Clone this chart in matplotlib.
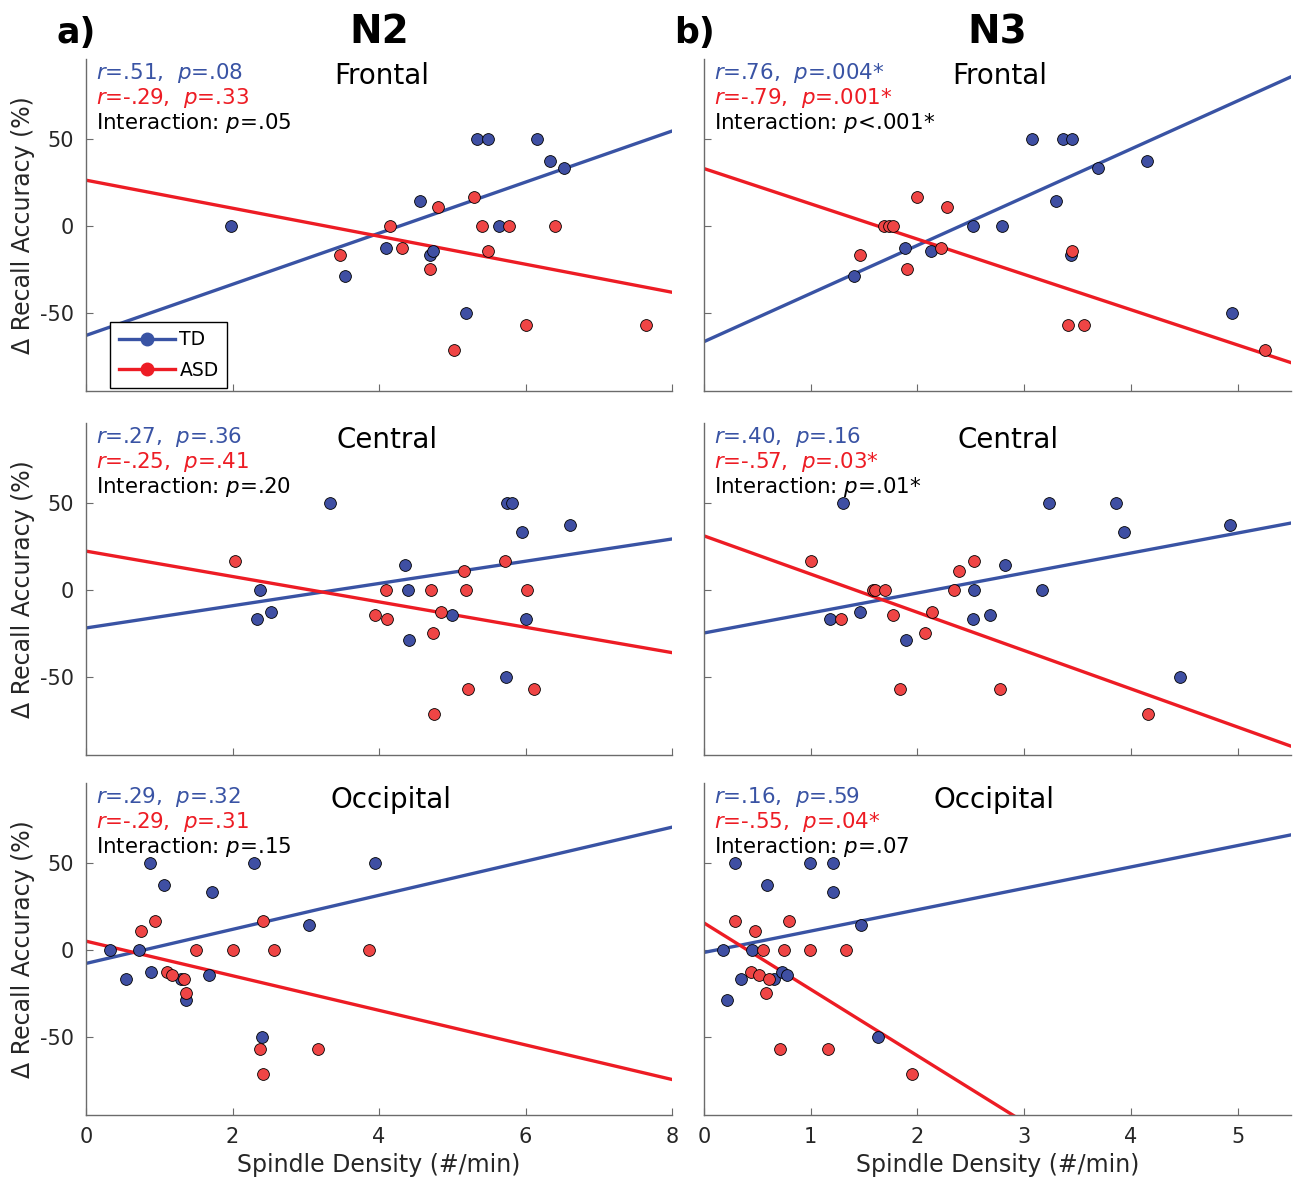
import matplotlib.pyplot as plt
import numpy as np
from matplotlib.lines import Line2D

plt.rcParams['axes.unicode_minus'] = False

blue = '#3953A4'
red = '#ED1C24'
blue_face = '#3F4FA3'
red_face = '#EF4545'

# ---- N2 ----
n2_fr_td_x = [1.98, 3.53, 4.09, 4.56, 4.69, 4.74, 5.19, 5.34, 5.49, 5.64, 6.15, 6.34, 6.53]
n2_fr_td_y = [0, -28.6, -12.5, 14.3, -16.7, -14.3, -50, 50, 50, 0, 50, 37.5, 33.3]
n2_fr_asd_x = [3.47, 4.15, 4.31, 4.69, 4.80, 5.02, 5.30, 5.41, 5.49, 5.77, 6.00, 6.40, 7.65]
n2_fr_asd_y = [-16.7, 0, -12.5, -25, 10.7, -71.4, 16.7, 0, -14.3, 0, -57.1, 0, -57.1]

n2_ce_td_x = [2.34, 2.37, 2.52, 3.33, 4.36, 4.39, 4.41, 4.99, 5.73, 5.75, 5.81, 5.95, 6.01, 6.60]
n2_ce_td_y = [-16.7, 0, -12.5, 50, 14.3, 0, -28.6, -14.3, -50, 50, 50, 33.3, -16.7, 37.5]
n2_ce_asd_x = [2.04, 3.94, 4.09, 4.11, 4.71, 4.73, 4.75, 4.84, 5.16, 5.19, 5.22, 5.72, 6.02, 6.11]
n2_ce_asd_y = [16.7, -14.3, 0, -16.7, 0, -25, -71.4, -12.5, 10.7, 0, -57.1, 16.7, 0, -57.1]

n2_oc_td_x = [0.33, 0.54, 0.72, 0.87, 0.88, 1.06, 1.29, 1.37, 1.68, 1.72, 2.29, 2.40, 3.05, 3.95]
n2_oc_td_y = [0, -16.7, 0, 50, -12.5, 37.5, -16.7, -28.6, -14.3, 33.3, 50, -50, 14.3, 50]
n2_oc_asd_x = [0.75, 0.94, 1.11, 1.18, 1.34, 1.36, 1.50, 2.00, 2.37, 2.42, 2.42, 2.57, 3.17, 3.86]
n2_oc_asd_y = [10.7, 16.7, -12.5, -14.3, -16.7, -25, 0, 0, -57.1, 16.7, -71.4, 0, -57.1, 0]

# ---- N3 ----
n3_fr_td_x = [1.41, 1.88, 2.13, 2.52, 2.79, 3.07, 3.30, 3.36, 3.45, 3.44, 3.69, 4.15, 4.95]
n3_fr_td_y = [-28.6, -12.5, -14.3, 0, 0, 50, 14.3, 50, 50, -16.7, 33.3, 37.5, -50]
n3_fr_asd_x = [1.46, 1.69, 1.73, 1.77, 1.90, 2.00, 2.22, 2.28, 3.41, 3.45, 3.56, 5.26]
n3_fr_asd_y = [-16.7, 0, 0, 0, -25, 16.7, -12.5, 10.7, -57.1, -14.3, -57.1, -71.4]

n3_ce_td_x = [1.18, 1.30, 1.46, 1.89, 2.52, 2.53, 2.68, 2.82, 3.17, 3.23, 3.86, 3.94, 4.46, 4.93]
n3_ce_td_y = [-16.7, 50, -12.5, -28.6, -16.7, 0, -14.3, 14.3, 0, 50, 50, 33.3, -50, 37.5]
n3_ce_asd_x = [1.00, 1.28, 1.58, 1.60, 1.70, 1.77, 1.84, 2.07, 2.14, 2.34, 2.39, 2.53, 2.77, 4.16]
n3_ce_asd_y = [16.7, -16.7, 0, 0, 0, -14.3, -57.1, -25, -12.5, 0, 10.7, 16.7, -57.1, -71.4]

n3_oc_td_x = [0.18, 0.22, 0.29, 0.35, 0.45, 0.59, 0.66, 0.73, 0.78, 0.99, 1.21, 1.21, 1.47, 1.63]
n3_oc_td_y = [0, -28.6, 50, -16.7, 0, 37.5, -16.7, -12.5, -14.3, 50, 50, 33.3, 14.3, -50]
n3_oc_asd_x = [0.29, 0.44, 0.48, 0.52, 0.55, 0.58, 0.61, 0.71, 0.75, 0.80, 0.99, 1.16, 1.33, 1.95]
n3_oc_asd_y = [16.7, -12.5, 10.7, -14.3, 0, -25, -16.7, -57.1, 0, 16.7, 0, -57.1, 0, -71.4]

# fitted lines as drawn in the figure: (intercept, slope), panel order
# N2 Frontal, N3 Frontal, N2 Central, N3 Central, N2 Occipital, N3 Occipital
td_fit = [(-63.0, 14.7), (-66.6, 27.7), (-21.9, 6.4), (-24.8, 11.5), (-7.8, 9.8), (-1.5, 12.3)]
asd_fit = [(26.3, -8.06), (33.0, -20.3), (22.3, -7.3), (31.1, -22.0), (5.0, -9.95), (15.5, -38.2)]

regions = ['Frontal', 'Central', 'Occipital']
stages = ['N2', 'N3']
panel_tags = ['a)', 'b)']

td_stats = [['.51', '.08'], ['.76', '.004*'],
            ['.27', '.36'], ['.40', '.16'],
            ['.29', '.32'], ['.16', '.59']]
asd_stats = [['-.29', '.33'], ['-.79', '.001*'],
             ['-.25', '.41'], ['-.57', '.03*'],
             ['-.29', '.31'], ['-.55', '.04*']]
inter_stats = ['=.05', '<.001*', '=.20', '=.01*', '=.15', '=.07']

panels = [
    (n2_fr_td_x, n2_fr_td_y, n2_fr_asd_x, n2_fr_asd_y),
    (n3_fr_td_x, n3_fr_td_y, n3_fr_asd_x, n3_fr_asd_y),
    (n2_ce_td_x, n2_ce_td_y, n2_ce_asd_x, n2_ce_asd_y),
    (n3_ce_td_x, n3_ce_td_y, n3_ce_asd_x, n3_ce_asd_y),
    (n2_oc_td_x, n2_oc_td_y, n2_oc_asd_x, n2_oc_asd_y),
    (n3_oc_td_x, n3_oc_td_y, n3_oc_asd_x, n3_oc_asd_y),
]

fig = plt.figure(figsize=(12.94, 11.81), dpi=100)

col_x = [0.0665, 0.5440]
col_w = [0.4529, 0.4536]
row_y = [0.6689, 0.3607, 0.0559]
row_h = 0.2811
xlims = [8, 5.5]
xticks = [[0, 2, 4, 6, 8], [0, 1, 2, 3, 4, 5]]
title_x = [0.505, 0.504, 0.514, 0.518, 0.520, 0.494]

for i, (tdx, tdy, asdx, asdy) in enumerate(panels):
    r, c = divmod(i, 2)
    ax = fig.add_axes([col_x[c], row_y[r], col_w[c], row_h])
    xs = np.array([0, xlims[c]])
    for (b0, b1), lc in [(td_fit[i], blue), (asd_fit[i], red)]:
        ax.plot(xs, b0 + b1 * xs, color=lc, lw=2.4, zorder=2)
    ax.scatter(tdx, tdy, s=72, color=blue_face, edgecolor='black', linewidth=0.6, zorder=3)
    ax.scatter(asdx, asdy, s=72, color=red_face, edgecolor='black', linewidth=0.6, zorder=3)

    ax.set_xlim(0, xlims[c])
    ax.set_ylim(-95, 96)
    ax.set_xticks(xticks[c])
    ax.set_yticks([-50, 0, 50])
    for s in ['top', 'right']:
        ax.spines[s].set_visible(False)
    for s in ['left', 'bottom']:
        ax.spines[s].set_color('#6b6b6b')
        ax.spines[s].set_linewidth(1.0)
    ax.tick_params(direction='in', length=5, color='#6b6b6b', labelsize=15,
                   labelcolor='#262626')
    ax.tick_params(axis='x', pad=9)
    ax.tick_params(axis='y', pad=9)
    if c == 1:
        ax.tick_params(axis='y', labelleft=False)
    else:
        ax.set_ylabel('\u0394 Recall Accuracy (%)', fontsize=17, color='#262626')
        ax.yaxis.set_label_coords(-0.087, 0.5)
    if r < 2:
        ax.tick_params(axis='x', labelbottom=False)
    else:
        ax.set_xlabel('Spindle Density (#/min)', fontsize=17, color='#262626', labelpad=4)

    ax.text(title_x[i], 0.925, regions[r], transform=ax.transAxes, ha='center',
            va='baseline', fontsize=20)
    ax.text(0.017, 0.94, '$r$=%s,  $p$=%s' % tuple(td_stats[i]), transform=ax.transAxes,
            va='baseline', fontsize=15.4, color=blue)
    ax.text(0.017, 0.8645, '$r$=%s,  $p$=%s' % tuple(asd_stats[i]), transform=ax.transAxes,
            va='baseline', fontsize=15.4, color=red)
    ax.text(0.017, 0.789, 'Interaction: $p$' + inter_stats[i], transform=ax.transAxes,
            va='baseline', fontsize=15.4, color='black')

    if i == 0:
        handles = [Line2D([], [], color=blue, lw=2.4, marker='o', markersize=9),
                   Line2D([], [], color=red, lw=2.4, marker='o', markersize=9)]
        leg = ax.legend(handles, ['TD', 'ASD'], loc='lower left',
                        bbox_to_anchor=(0.041, 0.009), borderaxespad=0,
                        fontsize=13.5, numpoints=1, handlelength=3.0, handletextpad=0.25,
                        borderpad=0.45, labelspacing=0.6, fancybox=False, framealpha=1,
                        edgecolor='black')
        leg.get_frame().set_linewidth(1.0)

for c in range(2):
    cx = col_x[c] + col_w[c] / 2
    fig.text(cx, 1 - 43 / 1181, stages[c], ha='center', va='baseline',
             fontsize=28, fontweight='bold')
    fig.text(col_x[c] - 0.023, 1 - 43 / 1181, panel_tags[c], ha='left', va='baseline',
             fontsize=25, fontweight='bold')

fig.savefig('out.png', dpi=100)
